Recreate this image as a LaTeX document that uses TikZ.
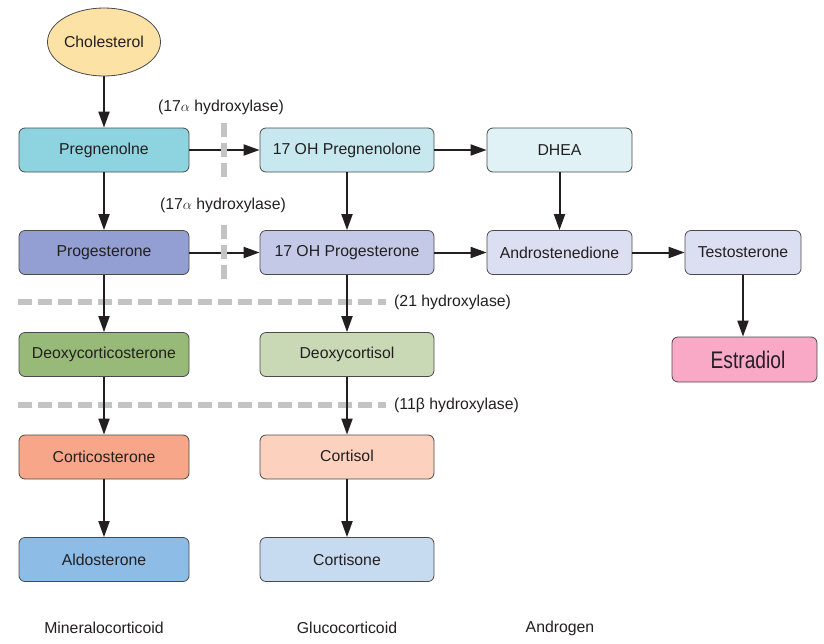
\documentclass[tikz,border=0pt]{standalone}
\usepackage{fontspec}
\setmainfont{Liberation Sans}
\usetikzlibrary{arrows.meta,shapes.geometric}
\definecolor{txt}{HTML}{231F20}
\definecolor{bordercol}{HTML}{4A4A4A}
\definecolor{dashcol}{HTML}{C3C3C3}
\definecolor{cChol}{HTML}{FCE2A5}
\definecolor{cPreg}{HTML}{8DD3E0}
\definecolor{cOHPreg}{HTML}{C8E8EF}
\definecolor{cDHEA}{HTML}{E0F2F5}
\definecolor{cProg}{HTML}{939FD2}
\definecolor{cOHProg}{HTML}{C4C9E8}
\definecolor{cAndro}{HTML}{DCDFF1}
\definecolor{cEstr}{HTML}{F9A9C6}
\definecolor{cDOC}{HTML}{98BA78}
\definecolor{cDCort}{HTML}{C9D9B5}
\definecolor{cCorticost}{HTML}{F7A68A}
\definecolor{cCortisol}{HTML}{FCD1BD}
\definecolor{cAldo}{HTML}{8DBCE6}
\definecolor{cCortisone}{HTML}{C6DAF0}
\begin{document}
\begin{tikzpicture}[x=1pt,y=-1pt,
  every node/.style={text=txt, font=\fontsize{15.8}{18}\selectfont},
  box/.style={draw=bordercol, line width=0.8pt, rounded corners=6pt, minimum height=44pt, inner sep=0pt},
  col1/.style={box, minimum width=170pt},
  col2/.style={box, minimum width=174pt},
  col3/.style={box, minimum width=145pt},
  arr/.style={draw=txt, line width=2pt, -{Triangle[length=16pt,width=11pt]}},
  gdash/.style={draw=dashcol, line width=6pt, dash pattern=on 14pt off 6pt},
  lbl/.style={inner sep=0pt}
]
\useasboundingbox (0,0) rectangle (824,643);

% nodes
\node[ellipse, draw=bordercol, line width=0.8pt, fill=cChol, minimum width=108pt, minimum height=68pt, inner sep=0pt] (chol) at (104,42) {Cholesterol};
\node[col1, fill=cPreg] (preg) at (104,150) {Pregnenolne};
\node[col2, fill=cOHPreg] (ohpreg) at (347,150) {17 OH Pregnenolone};
\node[col3, fill=cDHEA] (dhea) at (559.5,150) {DHEA};
\node[col1, fill=cProg] (prog) at (104,252.5) {Progesterone};
\node[col2, fill=cOHProg] (ohprog) at (347,252.5) {17 OH Progesterone};
\node[col3, fill=cAndro] (andro) at (559.5,252.5) {Androstenedione};
\node[box, minimum width=116pt, fill=cAndro] (testo) at (743,252.5) {Testosterone};
\node[box, minimum width=145pt, minimum height=45pt, fill=cEstr, font=\fontsize{24}{28}\selectfont] (estr) at (744.5,359.5) {\hspace*{7pt}\raisebox{-2pt}{\scalebox{0.8}[1]{Estradiol}}};
\node[col1, fill=cDOC] (doc) at (104,354.5) {Deoxycorticosterone};
\node[col2, fill=cDCort] (dcort) at (347,354.5) {Deoxycortisol};
\node[col1, fill=cCorticost] (corticost) at (104,457) {Corticosterone};
\node[col2, fill=cCortisol] (cortisol) at (347,457) {\raisebox{2pt}{Cortisol}};
\node[col1, fill=cAldo] (aldo) at (104,559.5) {Aldosterone};
\node[col2, fill=cCortisone] (cortisone) at (347,559.5) {Cortisone};

% horizontal enzyme barriers
\coordinate (h1a) at (18,302);
\coordinate (h1b) at (386,302);
\coordinate (h2a) at (18,405);
\coordinate (h2b) at (386,405);
\draw[gdash] (h1a) -- (h1b);
\draw[gdash] (h2a) -- (h2b);

% arrows
\draw[arr] (chol) -- (preg);
\draw[arr] (preg) -- (prog);
\draw[arr] (prog) -- (doc);
\draw[arr] (doc) -- (corticost);
\draw[arr] (corticost) -- (aldo);
\draw[arr] (preg) -- (ohpreg);
\draw[arr] (ohpreg) -- (dhea);
\draw[arr] (ohpreg) -- (ohprog);
\draw[arr] (dhea) -- (andro);
\draw[arr] (prog) -- (ohprog);
\draw[arr] (ohprog) -- (andro);
\draw[arr] (andro) -- (testo);
\draw[arr] (ohprog) -- (dcort);
\draw[arr] (dcort) -- (cortisol);
\draw[arr] (cortisol) -- (cortisone);
\draw[arr] (testo.south) -- (testo.south |- estr.north);

% vertical enzyme barriers
\coordinate (v1a) at (224,123);
\coordinate (v1b) at (224,178);
\coordinate (v2a) at (224,225);
\coordinate (v2b) at (224,280);
\draw[gdash] (v1a) -- (v1b);
\draw[gdash] (v2a) -- (v2b);

% enzyme labels
\node[lbl] (e1) at (221,107) {(17$\alpha$ hydroxylase)};
\node[lbl] (e2) at (223,205) {(17$\alpha$ hydroxylase)};
\node[lbl, anchor=west] (e3) at (394,302) {(21 hydroxylase)};
\node[lbl, anchor=west] (e4) at (394,405) {(11β hydroxylase)};

% class labels
\node[lbl] (m) at (104,628) {Mineralocorticoid};
\node[lbl] (g) at (347,628) {Glucocorticoid};
\node[lbl] (a) at (560,628) {Androgen};
\end{tikzpicture}
\end{document}
